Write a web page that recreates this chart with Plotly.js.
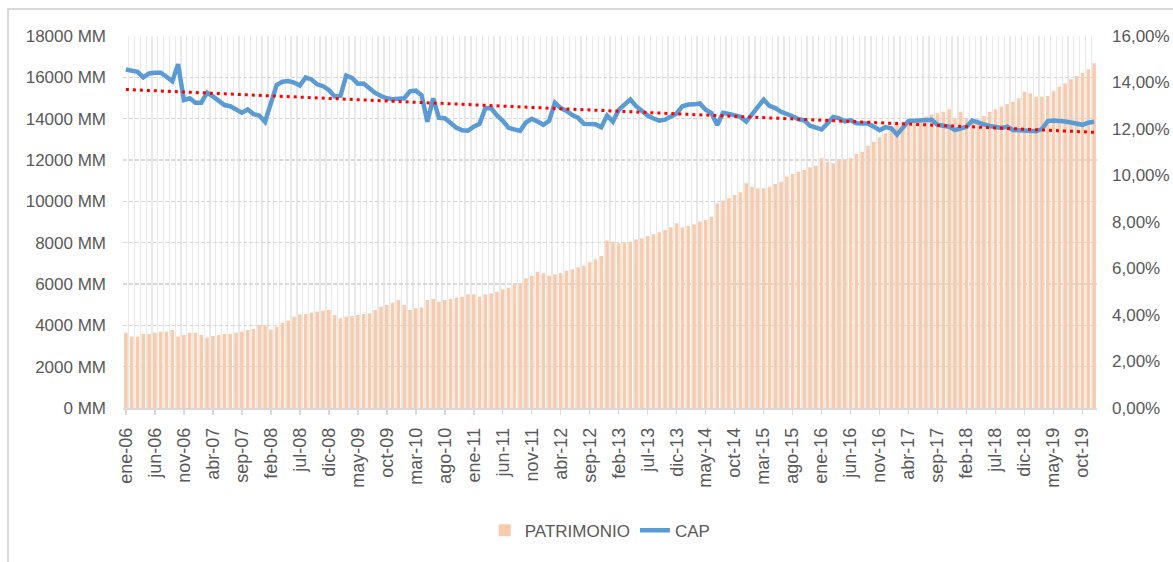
<!DOCTYPE html>
<html>
<head>
<meta charset="utf-8">
<script src="https://cdn.plot.ly/plotly-3.0.1.min.js"></script>
<style>
  html, body { margin: 0; padding: 0; background: #fff; }
  #chart { width: 1173px; height: 562px; }
  #frame { position: absolute; left: 7px; top: 8px; width: 1200px; height: 600px;
           border-left: 2px solid #D9D9D9; border-top: 2px solid #D9D9D9; pointer-events: none; }
</style>
</head>
<body>
<div id="chart"></div>
<div id="frame"></div>
<script>
// Month names (Spanish) and years covered: ene-06 .. dic-19
const MONTHS = ['ene','feb','mar','abr','may','jun','jul','ago','sep','oct','nov','dic'];
const YEARS = ['06','07','08','09','10','11','12','13','14','15','16','17','18','19'];

// PATRIMONIO (MM), monthly, ene-06 .. dic-19
const PATRIMONIO = [
  3645,3452,3452,3581,3581,3645,3694,3694,3774,3452,3532,3645,
  3645,3532,3403,3484,3532,3581,3581,3645,3694,3774,3823,4016,
  4000,3790,3936,4129,4226,4419,4532,4548,4613,4661,4710,4742,
  4500,4339,4419,4452,4500,4548,4580,4742,4903,4984,5097,5226,
  4984,4742,4823,4871,5226,5274,5145,5226,5274,5339,5387,5500,
  5500,5387,5500,5548,5629,5742,5823,5952,6032,6274,6403,6597,
  6516,6403,6468,6516,6645,6710,6806,6887,7048,7194,7355,8097,
  8048,7968,8016,8048,8162,8210,8323,8403,8500,8613,8742,8935,
  8742,8806,8887,9016,9097,9258,9903,10032,10145,10306,10435,10871,
  10710,10629,10629,10710,10839,10952,11194,11323,11436,11516,11645,11726,
  12081,11920,11839,11968,12032,12081,12290,12403,12694,12887,13097,13290,
  13532,13742,13850,13950,14000,14050,14100,14200,14258,14339,14452,14016,
  14339,14016,13936,13968,14129,14339,14452,14581,14710,14823,14984,15307,
  15226,15065,15065,15097,15355,15548,15710,15903,16065,16226,16387,16677
];

// CAP (%), monthly, ene-06 .. dic-19
const CAP = [
  14.56,14.49,14.46,14.22,14.39,14.42,14.42,14.25,14.05,14.79,13.24,13.32,
  13.13,13.13,13.56,13.40,13.20,13.03,12.98,12.85,12.70,12.84,12.64,12.58,
  12.31,13.10,13.89,14.03,14.06,14.00,13.87,14.22,14.13,13.92,13.84,13.68,
  13.40,13.42,14.30,14.20,13.95,13.96,13.76,13.55,13.42,13.32,13.28,13.30,
  13.32,13.62,13.65,13.45,12.31,13.32,12.48,12.46,12.26,12.05,11.95,11.93,
  12.10,12.22,12.90,12.89,12.58,12.35,12.05,11.98,11.92,12.28,12.44,12.32,
  12.18,12.35,13.13,12.90,12.78,12.60,12.48,12.22,12.20,12.20,12.08,12.58,
  12.32,12.82,13.05,13.27,12.98,12.78,12.58,12.45,12.36,12.40,12.52,12.67,
  12.98,13.05,13.06,13.10,12.83,12.68,12.17,12.70,12.65,12.60,12.52,12.32,
  12.62,12.95,13.26,13.00,12.90,12.74,12.67,12.55,12.42,12.38,12.14,12.04,
  11.98,12.24,12.52,12.46,12.33,12.38,12.25,12.24,12.24,12.10,11.95,12.08,
  12.03,11.76,12.03,12.35,12.36,12.36,12.40,12.40,12.18,12.15,12.10,11.95,
  12.02,12.10,12.36,12.26,12.20,12.13,12.08,12.04,12.10,11.96,11.95,11.93,
  11.92,11.90,12.00,12.34,12.36,12.35,12.32,12.28,12.25,12.18,12.27,12.31
];

const LEFT_TICKS = [0,2000,4000,6000,8000,10000,12000,14000,16000,18000];
const LEFT_TICK_TEXT = ['0 MM','2000 MM','4000 MM','6000 MM','8000 MM','10000 MM','12000 MM','14000 MM','16000 MM','18000 MM'];
const RIGHT_TICKS = [0,0.02,0.04,0.06,0.08,0.10,0.12,0.14,0.16];

// build category labels and positions
const LABELS = [];
YEARS.forEach(y => MONTHS.forEach(m => LABELS.push(m + '-' + y)));
const IDX = LABELS.map((_, i) => i);
const CAPF = CAP.map(v => v / 100);

// linear trendline (least squares) of CAP, as Excel's trendline
const n = CAPF.length;
const mx = IDX.reduce((a, b) => a + b, 0) / n;
const my = CAPF.reduce((a, b) => a + b, 0) / n;
let sxy = 0, sxx = 0;
for (let i = 0; i < n; i++) { sxy += (IDX[i] - mx) * (CAPF[i] - my); sxx += (IDX[i] - mx) ** 2; }
const slope = sxy / sxx, icpt = my - slope * mx;
const TREND = IDX.map(i => icpt + slope * i);

const tickIdx = IDX.filter(i => i % 5 === 0);
const FONT = 'Liberation Sans, Arial, sans-serif';
const GREY = '#595959';

const data = [
  { type: 'bar', name: 'PATRIMONIO', x: IDX, y: PATRIMONIO,
    marker: { color: '#F8CBAD' }, hoverinfo: 'skip' },
  { type: 'scatter', mode: 'lines', name: 'CAP', x: IDX, y: CAPF, yaxis: 'y2',
    line: { color: '#5B9BD5', width: 4.5 }, hoverinfo: 'skip' },
  { type: 'scatter', mode: 'lines', name: 'Lineal (CAP)', x: IDX, y: TREND, yaxis: 'y2',
    line: { color: '#FF0000', width: 3, dash: '3px,4px' }, showlegend: false, hoverinfo: 'skip' }
];

const layout = {
  width: 1173, height: 562,
  margin: { l: 123, r: 76, t: 36, b: 154 },
  paper_bgcolor: 'rgba(0,0,0,0)', plot_bgcolor: '#fff',
  separators: ',.',
  bargap: 0.38,
  showlegend: true,
  font: { family: FONT, size: 17, color: GREY },
  xaxis: {
    range: [-0.5, n - 0.5],
    tickvals: tickIdx, ticktext: tickIdx.map(i => LABELS[i]),
    tickangle: -90, ticks: 'outside', ticklen: 5, tickcolor: '#D9D9D9', tickwidth: 1.5,
    ticklabelstandoff: 6,
    tickfont: { family: FONT, size: 18, color: GREY },
    showgrid: false, zeroline: false,
    showline: true, linecolor: '#D9D9D9', linewidth: 1.5,
    minor: { tick0: -0.5, dtick: 1, showgrid: true, gridcolor: '#E9E9E9', gridwidth: 1.3, ticks: '' }
  },
  yaxis: {
    range: [0, 18000], tickmode: 'array', tickvals: LEFT_TICKS, ticktext: LEFT_TICK_TEXT,
    showgrid: true, gridcolor: '#D9D9D9', gridwidth: 1.5, griddash: '4px,2px',
    zeroline: false, showline: false, ticks: '', ticklabelstandoff: 16,
    tickfont: { family: FONT, size: 17, color: GREY }
  },
  yaxis2: {
    range: [0, 0.16], tickvals: RIGHT_TICKS, tickformat: '.2%',
    overlaying: 'y', side: 'right', showgrid: false, zeroline: false, showline: false,
    ticks: '', ticklabelstandoff: 14,
    tickfont: { family: FONT, size: 17, color: GREY }
  },
  legend: {
    orientation: 'h', x: 0.49, xanchor: 'center', y: -0.33, yanchor: 'middle',
    font: { family: FONT, size: 17, color: GREY }, bgcolor: 'rgba(0,0,0,0)'
  }
};

Plotly.newPlot('chart', data, layout, { staticPlot: true, displayModeBar: false });
</script>
</body>
</html>
